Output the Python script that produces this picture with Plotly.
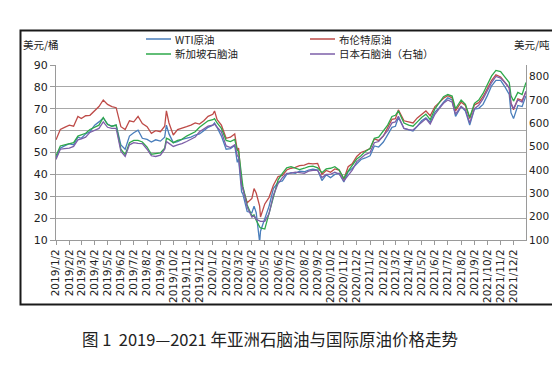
import plotly.graph_objects as go

dates = [
    "2019-01-02", "2019-01-12", "2019-01-22", "2019-02-02", "2019-02-12", "2019-02-22",
    "2019-03-02", "2019-03-12", "2019-03-22", "2019-04-02", "2019-04-12", "2019-04-22",
    "2019-05-02", "2019-05-12", "2019-05-22", "2019-06-02", "2019-06-12", "2019-06-22",
    "2019-07-02", "2019-07-12", "2019-07-22", "2019-08-02", "2019-08-12", "2019-08-22",
    "2019-09-02", "2019-09-12", "2019-09-16", "2019-09-22", "2019-10-02", "2019-10-12",
    "2019-10-22", "2019-11-02", "2019-11-12", "2019-11-22", "2019-12-02", "2019-12-12",
    "2019-12-22",
    "2020-01-02", "2020-01-06", "2020-01-12", "2020-01-22", "2020-02-02", "2020-02-12",
    "2020-02-22", "2020-02-28", "2020-03-02", "2020-03-09", "2020-03-12", "2020-03-22",
    "2020-04-02", "2020-04-07", "2020-04-12", "2020-04-20", "2020-04-22", "2020-05-02",
    "2020-05-12", "2020-05-22", "2020-06-02", "2020-06-12", "2020-06-22",
    "2020-07-02", "2020-07-12", "2020-07-22", "2020-08-02", "2020-08-12", "2020-08-22",
    "2020-09-02", "2020-09-12", "2020-09-22", "2020-10-02", "2020-10-12", "2020-10-22",
    "2020-11-02", "2020-11-12", "2020-11-22", "2020-12-02", "2020-12-12", "2020-12-22",
    "2021-01-02", "2021-01-12", "2021-01-22", "2021-02-02", "2021-02-12", "2021-02-22",
    "2021-03-02", "2021-03-09", "2021-03-22", "2021-04-02", "2021-04-12", "2021-04-22",
    "2021-05-02", "2021-05-12", "2021-05-22", "2021-06-02", "2021-06-12", "2021-06-22",
    "2021-07-02", "2021-07-12", "2021-07-20", "2021-08-02", "2021-08-12", "2021-08-22",
    "2021-09-02", "2021-09-12", "2021-09-22", "2021-10-02", "2021-10-12", "2021-10-22",
    "2021-11-02", "2021-11-12", "2021-11-22", "2021-11-26", "2021-12-02", "2021-12-12",
    "2021-12-22", "2021-12-31",
]

# WTI crude, USD/bbl (left axis)
wti = [
    47.5, 52.0, 53.0, 54.0, 53.5, 57.0, 56.5, 58.5, 59.5, 62.5, 64.0, 65.8, 63.0, 62.0, 62.5,
    53.5, 51.5, 57.5, 59.0, 60.2, 56.5, 56.0, 54.8, 55.8, 55.2, 57.0, 62.5, 58.5, 54.5, 55.0,
    56.0, 56.5, 57.0, 58.0, 58.5, 60.0, 61.5,
    62.5, 63.5, 61.5, 57.5, 51.5, 51.8, 53.2, 45.5, 47.0, 32.0, 31.0, 23.0, 22.5, 25.5, 22.5,
    9.0, 14.0, 19.5, 25.5, 33.5, 36.5, 37.0, 40.0,
    40.8, 40.5, 41.5, 41.2, 42.0, 42.4, 42.0, 37.2, 39.8, 38.5, 40.0, 40.5, 36.5, 41.2, 42.8,
    45.0, 46.8, 47.5,
    48.5, 53.0, 52.5, 54.8, 58.5, 61.5, 62.0, 66.0, 61.0, 60.5, 59.8, 62.0, 64.5, 65.8, 63.8,
    68.5, 70.5, 73.0, 75.0, 74.0, 66.5, 71.0, 69.0, 62.5, 69.8, 70.2, 72.0, 76.0, 80.5, 83.0,
    83.0, 80.0, 76.5, 68.2, 65.5, 71.5, 71.0, 76.0,
]

# Brent crude, USD/bbl (left axis)
brent = [
    55.8, 60.5, 61.5, 62.5, 62.0, 66.5, 65.5, 66.8, 67.0, 69.0, 71.0, 74.0, 72.0, 71.0, 70.5,
    61.8, 60.5, 64.5, 64.0, 66.5, 63.2, 61.8, 58.8, 60.0, 59.5, 62.0, 69.0, 63.5, 58.0, 60.5,
    61.0, 61.8, 62.5, 63.5, 63.0, 64.5, 66.5,
    67.5, 69.0, 65.0, 62.5, 56.5, 57.0, 58.5, 51.0, 52.0, 35.5, 33.5, 27.0, 29.0, 33.5, 31.5,
    25.5, 20.5, 26.5, 29.5, 35.0, 39.0, 39.5, 42.0,
    42.8, 43.2, 44.0, 44.2, 45.0, 44.8, 45.0, 40.0, 41.8, 41.0, 42.5, 42.0, 37.8, 43.5, 45.0,
    48.2, 50.0, 50.8,
    51.8, 56.2, 55.5, 57.5, 61.5, 65.2, 65.5, 69.5, 64.5, 64.0, 63.5, 65.8, 67.5, 69.0, 66.8,
    71.0, 72.8, 74.8, 76.0, 75.0, 69.0, 73.0, 71.5, 65.5, 71.8, 72.8, 75.5, 79.0, 83.0, 85.5,
    84.5, 82.0, 79.5, 72.5, 69.5, 74.5, 73.8, 77.8,
]

# Singapore naphtha, USD/bbl (left axis)
singapore = [
    48.5, 53.0, 53.5, 54.2, 54.5, 57.5, 58.0, 58.8, 60.5, 61.5, 62.5, 66.0, 62.8, 62.0, 62.5,
    51.5, 49.0, 54.5, 55.5, 55.5, 54.8, 52.5, 49.2, 49.5, 49.8, 52.0, 56.5, 56.0, 54.5, 55.5,
    56.0, 57.5, 58.5, 59.5, 61.5, 63.0, 64.5,
    65.0, 65.5, 63.5, 61.0, 55.5, 55.0, 56.0, 51.0, 50.5, 37.5, 34.5, 26.0, 21.0, 21.5, 19.0,
    16.0, 15.5, 15.0, 22.5, 30.5, 37.5, 40.5, 43.0,
    43.5, 43.0, 42.2, 42.8, 43.5, 43.8, 43.0, 40.8, 42.5, 42.8, 43.5, 42.0, 38.2, 41.5, 44.0,
    47.0, 48.5, 50.5,
    51.8, 56.5, 57.0, 60.0, 62.5, 66.5, 67.0, 69.0, 63.5, 62.5, 62.0, 64.0, 66.0, 67.5, 65.0,
    70.0, 72.5, 75.5, 76.5, 75.8, 70.0, 74.0, 72.0, 66.0, 72.5, 74.0, 77.0, 81.0, 85.0, 87.5,
    87.0, 84.5, 82.0, 76.0, 73.5, 77.5, 76.5, 82.0,
]

# Japan naphtha, USD/t (right axis)
japan = [
    445, 489, 492, 494, 501, 529, 533, 541, 561, 569, 578, 606, 583, 578, 578,
    480, 458, 508, 517, 514, 513, 489, 461, 458, 464, 489, 522, 514, 501, 508,
    513, 522, 533, 541, 564, 578, 588,
    592, 597, 583, 564, 503, 496, 508, 461, 456, 334, 320, 241, 198, 203, 189,
    184, 180, 180, 213, 292, 342, 367, 386,
    387, 391, 389, 386, 395, 398, 398, 368, 381, 381, 391, 383, 353, 377, 400,
    436, 452, 466,
    475, 517, 522, 545, 569, 602, 606, 630, 578, 573, 571, 588, 606, 620, 597,
    639, 663, 686, 700, 691, 639, 672, 658, 602, 663, 677, 705, 738, 775, 801,
    794, 775, 752, 686, 663, 700, 691, 738,
]

series_names = ["WTI原油", "布伦特原油", "新加坡石脑油", "日本石脑油（右轴）"]
colors = ["#4a7ebb", "#be4b48", "#2ea84a", "#7d5fa8"]

tick_years = [2019, 2020, 2021]
tick_months = list(range(1, 13))
tick_vals = [f"{y}-{m:02d}-02" for y in tick_years for m in tick_months]
tick_text = [f"{y}/{m}/2" for y in tick_years for m in tick_months]

left_ticks = [10, 20, 30, 40, 50, 60, 70, 80, 90]
right_ticks = [100, 200, 300, 400, 500, 600, 700, 800]

fig = go.Figure()
for name, vals, col, ax in zip(series_names, [wti, brent, singapore, japan], colors,
                               ["y", "y", "y", "y2"]):
    fig.add_trace(go.Scatter(x=dates, y=vals, name=name, mode="lines",
                             line=dict(color=col, width=1.3), yaxis=ax, showlegend=False))

gray = "#9a9a9a"
fig.update_layout(
    width=560, height=366,
    margin=dict(l=48, r=42, t=57, b=134),
    paper_bgcolor="white", plot_bgcolor="white",
    font=dict(family="DejaVu Sans", color="#222222"),
    xaxis=dict(type="date", range=["2019-01-02", "2021-12-31"],
               tickvals=tick_vals, ticktext=tick_text, tickangle=-90,
               tickfont=dict(size=10.5, family="DejaVu Sans", color="#222"),
               showgrid=False, showline=True, linecolor=gray, linewidth=1,
               ticks="outside", ticklen=4, tickcolor=gray, zeroline=False),
    yaxis=dict(range=[10, 90], tickvals=left_ticks, showgrid=True, gridcolor="#a8a8a8",
               gridwidth=1, showline=True, linecolor=gray, ticks="outside", ticklen=5,
               tickcolor=gray, tickfont=dict(size=11, color="#222"), zeroline=False),
    yaxis2=dict(range=[100, 850], tickvals=right_ticks, overlaying="y", side="right",
                showgrid=False, showline=True, linecolor=gray, ticks="outside", ticklen=0,
                tickfont=dict(size=10.5, color="#222"), zeroline=False),
)

W, H = 470.0, 175.0
def px(x):
    return (x - 48) / W
def py(y):
    return (232 - y) / H

# outer frame
fig.add_shape(type="rect", xref="paper", yref="paper",
              x0=px(12.5), x1=px(550.5), y0=py(296.5), y1=py(22.5),
              line=dict(color="#1a1a1a", width=2), fillcolor="rgba(0,0,0,0)", layer="below")

cjk = "Noto Sans CJK SC"
fig.add_annotation(text="美元/桶", xref="paper", yref="paper", x=px(14), y=py(37),
                   xanchor="left", yanchor="middle", showarrow=False, borderpad=0,
                   font=dict(family=cjk, size=10.5, color="#222"))
fig.add_annotation(text="美元/吨", xref="paper", yref="paper", x=px(543), y=py(37),
                   xanchor="right", yanchor="middle", showarrow=False, borderpad=0,
                   font=dict(family=cjk, size=10.5, color="#222"))

# legend (two columns)
legend_pos = [(138, 31), (302, 31), (138, 46), (302, 46)]
for (lx, ly), name, col in zip(legend_pos, series_names, colors):
    fig.add_shape(type="line", xref="paper", yref="paper",
                  x0=px(lx), x1=px(lx + 25), y0=py(ly), y1=py(ly),
                  line=dict(color=col, width=1.5))
    fig.add_annotation(text=name, xref="paper", yref="paper", x=px(lx + 28), y=py(ly),
                       xanchor="left", yanchor="middle", showarrow=False, borderpad=0,
                       font=dict(family=cjk, size=10.5, color="#222"))

fig.add_annotation(text="图 1  2019—2021 年亚洲石脑油与国际原油价格走势",
                   xref="paper", yref="paper", x=px(262), y=py(331),
                   xanchor="center", yanchor="middle", showarrow=False,
                   font=dict(family=cjk, size=16.5, color="#222"))

fig.write_html("out.html")
